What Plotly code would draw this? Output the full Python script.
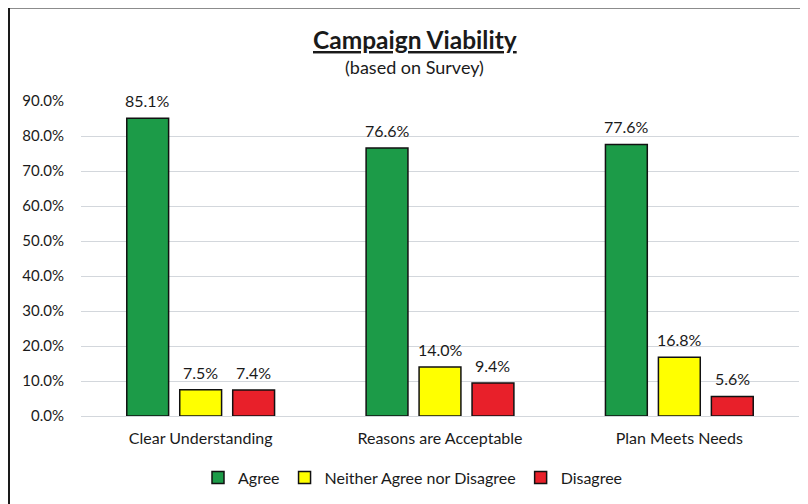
import plotly.graph_objects as go

categories = ["Clear Understanding", "Reasons are Acceptable", "Plan Meets Needs"]
series_names = ["Agree", "Neither Agree nor Disagree", "Disagree"]
agree = [0.851, 0.766, 0.776]
neither = [0.075, 0.140, 0.168]
disagree = [0.074, 0.094, 0.056]
y_ticks = [0.0, 0.1, 0.2, 0.3, 0.4, 0.5, 0.6, 0.7, 0.8, 0.9]

colors = ["#1c9b48", "#ffff00", "#e8202a"]
FONT = "Lato"
TXT = "#1a1a1a"
BARGAP = 0.336
GROUPGAP = 0.21

# page body has an 8px margin; work in window pixel coordinates
OX, OY = 8, 8
W, H = 800, 496
L = 81 - OX
T = 101 - OY
R = W - (799 - OX)
B = H - (418 - OY)
pw = W - L - R
ph = H - T - B


def px_x(x):
    return (x - OX - L) / pw


def px_y(y):
    return (H - B - (y - OY)) / ph


series = [agree, neither, disagree]
fig = go.Figure()
for name, vals, col in zip(series_names, series, colors):
    fig.add_trace(go.Bar(
        x=categories, y=vals, name=name,
        marker=dict(color=col, line=dict(color="#111111", width=1.5)),
    ))

# value labels above each bar (slot offset derived from the bar layout)
slot = (pw / len(categories)) * (1 - BARGAP) / len(series)
annotations = []
for i, vals in enumerate(series):
    for cat, v in zip(categories, vals):
        annotations.append(dict(
            x=cat, y=v, xref="x", yref="y", text=f"{v*100:.1f}%",
            showarrow=False, xanchor="center", yanchor="bottom",
            xshift=(i - (len(series) - 1) / 2) * slot, yshift=6,
            font=dict(family=FONT, size=16, color=TXT)))

annotations += [
    dict(text="<b><u>Campaign Viability</u></b>", xref="paper", yref="paper",
         x=px_x(415), y=px_y(39), xanchor="center", yanchor="middle",
         showarrow=False, font=dict(family=FONT, size=24.5, color=TXT)),
    dict(text="(based on Survey)", xref="paper", yref="paper",
         x=px_x(414), y=px_y(67), xanchor="center", yanchor="middle",
         showarrow=False, font=dict(family=FONT, size=18, color=TXT)),
]

fig.update_layout(
    width=W, height=H,
    margin=dict(l=L, r=R, t=T, b=B),
    paper_bgcolor="white", plot_bgcolor="white",
    barmode="group", bargap=BARGAP, bargroupgap=GROUPGAP,
    font=dict(family=FONT, size=14, color=TXT),
    showlegend=True,
    legend=dict(orientation="h", x=px_x(413), xanchor="center",
                y=px_y(480), yanchor="middle",
                font=dict(family=FONT, size=16, color=TXT),
                itemwidth=30, traceorder="normal"),
    xaxis=dict(showgrid=False, showline=False, ticks="", ticklabelstandoff=11,
               tickfont=dict(family=FONT, size=16, color=TXT)),
    yaxis=dict(range=[0, 0.9], tickvals=y_ticks,
               ticktext=[f"{v*100:.1f}%" for v in y_ticks],
               showgrid=True, gridcolor="#d3d7dc", gridwidth=1,
               zeroline=True, zerolinecolor="#d3d7dc", zerolinewidth=1,
               showline=False, ticks="", ticklabelstandoff=16,
               tickfont=dict(family=FONT, size=15, color=TXT)),
    annotations=annotations,
    shapes=[
        dict(type="rect", xref="paper", yref="paper",
             x0=px_x(9), x1=px_x(815), y0=px_y(512), y1=px_y(7),
             line=dict(color="#1a1a1a", width=2), fillcolor="rgba(0,0,0,0)",
             layer="below"),
    ],
)

fig.write_html("out.html")
